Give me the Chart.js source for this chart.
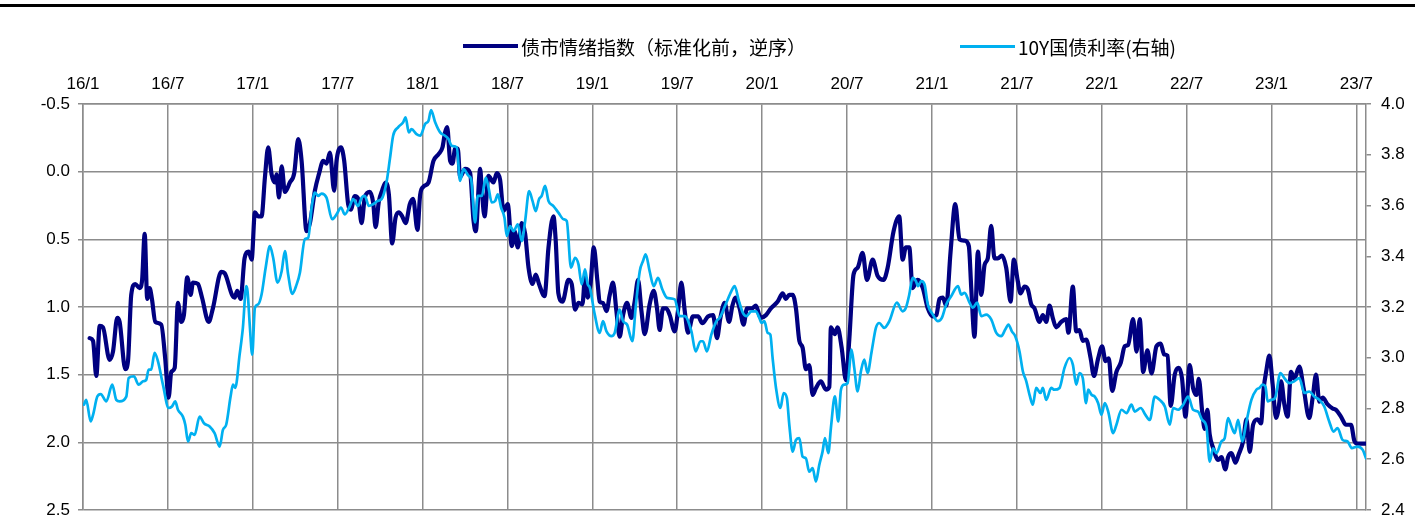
<!DOCTYPE html>
<html>
<head>
<meta charset="utf-8">
<script src="https://cdn.jsdelivr.net/npm/chart.js@4.4.0/dist/chart.umd.min.js"></script>
<style>
html,body{margin:0;padding:0;background:#fff;}
#wrap{position:relative;width:1423px;height:519px;overflow:hidden;background:#fff;}
#c{position:absolute;left:0;top:0;}
#topbar{position:absolute;left:0;top:4px;width:1415px;height:3px;background:#000;}
.leg{position:absolute;top:35px;height:22px;display:flex;align-items:center;font-family:"Noto Sans CJK SC","Noto Sans",sans-serif;font-size:19px;color:#000;white-space:nowrap;}
.leg i{display:inline-block;width:55px;margin-right:3px;}
</style>
</head>
<body>
<div id="wrap">
<canvas id="c" width="1423" height="519"></canvas>
<div id="topbar"></div>
<div class="leg" style="left:463px"><i style="background:#000080;height:4px"></i><span>债市情绪指数（标准化前，逆序）</span></div>
<div class="leg" style="left:960px"><i style="background:#00b0f0;height:3px"></i><span>10Y国债利率(右轴)</span></div>
</div>
<script>
// x positions are months since 2016/1
const xTickLabels = ['16/1','16/7','17/1','17/7','18/1','18/7','19/1','19/7','20/1','20/7','21/1','21/7','22/1','22/7','23/1','23/7'];
const xEnd = 90.68;

const sentimentMonths = [0.47,0.71,0.94,1.18,1.41,1.88,2.12,2.42,2.59,2.99,3.18,3.41,3.69,4.0,4.17,4.36,4.54,4.71,4.87,5.11,5.53,5.81,6.05,6.24,6.48,6.71,6.94,7.13,7.37,7.61,7.77,8.12,8.41,8.88,9.18,9.77,10.01,10.53,10.72,10.9,11.14,11.42,11.71,11.92,12.15,12.38,12.62,12.86,13.09,13.33,13.56,13.68,13.85,14.04,14.27,14.62,14.93,15.21,15.45,15.8,16.04,16.39,16.67,16.98,17.21,17.45,17.75,17.92,18.23,18.46,18.74,18.93,19.21,19.45,19.69,19.92,20.27,20.51,20.68,20.91,21.14,21.38,21.62,21.85,22.09,22.32,22.56,22.8,23.1,23.33,23.64,23.83,24.07,24.42,24.77,25.13,25.41,25.59,25.74,25.95,26.12,26.3,26.49,26.65,27.01,27.36,27.6,27.76,28.07,28.19,28.38,28.66,29.01,29.25,29.48,29.72,30.02,30.31,30.5,30.73,31.01,31.25,31.49,31.77,32.0,32.23,32.62,32.9,33.25,33.41,33.6,33.89,34.31,34.54,34.78,35.02,35.3,35.48,35.67,35.88,36.1,36.36,36.52,36.75,37.0,37.23,37.46,37.7,37.93,38.17,38.45,38.76,38.99,39.23,39.47,39.7,40.05,40.34,40.57,40.76,40.99,41.23,41.47,41.82,42.05,42.29,42.53,42.76,43.11,43.47,43.78,44.17,44.53,44.81,45.05,45.35,45.66,45.9,46.13,46.41,46.69,46.93,47.28,47.56,47.8,47.92,48.27,48.62,49.1,49.45,49.68,49.92,50.16,50.39,50.63,50.86,51.09,51.33,51.57,51.8,52.15,52.51,52.75,52.86,53.14,53.33,53.62,53.92,54.16,54.46,54.75,55.1,55.41,55.81,56.16,56.58,56.87,57.29,57.69,57.93,58.16,58.4,58.63,58.99,59.13,59.36,59.71,60.07,60.31,60.54,60.77,61.01,61.32,61.65,61.95,62.31,62.61,62.78,63.01,63.25,63.49,63.72,63.95,64.19,64.42,64.66,64.94,65.25,65.56,65.79,66.07,66.26,66.54,66.78,67.02,67.25,67.6,67.84,68.08,68.31,68.54,68.78,69.14,69.49,69.65,69.96,70.2,70.43,70.66,70.9,71.22,71.45,71.75,72.03,72.27,72.5,72.74,73.04,73.35,73.63,73.87,74.22,74.46,74.69,74.93,75.23,75.52,75.87,76.17,76.41,76.65,76.88,77.16,77.45,77.68,77.92,78.22,78.46,78.7,78.86,79.1,79.28,79.47,79.63,79.87,80.23,80.46,80.74,80.93,81.17,81.45,81.68,82.0,82.23,82.46,82.7,83.02,83.26,83.45,83.62,83.85,84.08,84.32,84.56,84.68,84.91,85.14,85.38,85.61,85.97,86.27,86.67,86.91,87.15,87.38,87.62,87.97,88.32,88.56,88.91,89.27,89.62,89.86,90.09,90.68];
const sentimentValues = [1.23,1.25,1.51,1.14,1.15,1.39,1.33,1.08,1.11,1.46,1.40,0.91,0.83,0.86,0.81,0.46,0.94,0.86,0.94,1.11,1.13,1.38,1.67,1.48,1.45,0.97,1.11,1.06,0.78,0.91,0.82,0.83,0.93,1.11,1.01,0.74,0.75,0.91,0.93,0.88,0.94,0.64,0.59,0.65,0.30,0.33,0.33,0.04,-0.18,0.02,0.08,0.02,0.19,-0.04,0.15,0.08,0.01,-0.24,-0.08,0.44,0.38,0.14,0.02,-0.08,-0.06,-0.14,0.14,-0.08,-0.18,-0.08,0.24,0.28,0.18,0.20,0.38,0.19,0.15,0.23,0.41,0.22,0.14,0.08,0.17,0.53,0.34,0.30,0.33,0.38,0.24,0.20,0.43,0.17,0.11,0.08,-0.08,-0.13,-0.18,-0.29,-0.33,-0.08,-0.06,-0.17,-0.17,0.04,-0.02,0.01,0.36,0.44,-0.02,0.14,0.33,0.03,0.08,0.01,0.06,0.29,0.24,0.55,0.44,0.56,0.38,0.46,0.71,0.83,0.76,0.83,0.92,0.56,0.33,0.51,0.90,0.96,0.80,0.83,1.02,0.97,0.98,0.78,0.93,0.82,0.56,0.81,0.96,0.97,1.03,0.91,0.82,1.03,1.22,1.06,0.97,1.08,0.96,0.80,1.03,1.20,0.98,0.88,1.01,1.17,1.01,1.01,1.06,1.18,1.03,0.82,1.03,1.19,1.07,1.07,1.12,1.07,1.06,1.23,1.08,0.97,1.11,0.99,0.93,1.01,1.13,1.01,1.01,0.99,1.06,1.08,1.06,1.01,0.96,0.90,0.94,0.91,0.91,1.01,1.25,1.30,1.46,1.43,1.65,1.60,1.55,1.61,1.59,1.15,1.20,1.15,1.30,1.54,1.24,0.76,0.71,0.60,0.80,0.65,0.77,0.80,0.71,0.44,0.33,0.65,0.56,0.56,0.86,0.80,0.81,0.86,1.01,1.07,1.06,0.94,0.93,0.99,0.59,0.24,0.50,0.51,0.55,0.86,1.22,0.59,0.91,0.69,0.64,0.40,0.64,0.64,0.62,0.71,0.96,0.65,0.81,0.90,0.85,0.87,0.98,1.01,1.11,1.06,1.11,0.99,1.08,1.15,1.11,1.09,1.19,0.85,1.18,1.17,1.25,1.24,1.38,1.51,1.38,1.29,1.40,1.38,1.62,1.48,1.41,1.29,1.28,1.09,1.33,1.09,1.48,1.32,1.49,1.29,1.27,1.35,1.36,1.73,1.50,1.45,1.53,1.81,1.43,1.60,1.65,1.53,1.77,1.90,1.76,1.94,2.04,2.13,2.11,2.20,2.11,2.08,2.15,2.09,1.99,1.83,2.07,1.87,1.83,1.86,1.60,1.48,1.36,1.57,1.82,1.70,1.55,1.72,1.81,1.48,1.53,1.44,1.60,1.82,1.67,1.50,1.70,1.67,1.72,1.75,1.76,1.81,1.87,1.87,1.99,2.01,2.01];

const yieldMonths = [0.07,0.23,0.54,0.71,1.01,1.25,1.65,2.07,2.35,2.59,3.06,3.23,3.6,3.93,4.24,4.47,4.64,4.82,5.06,5.3,5.65,6.05,6.29,6.52,6.71,7.06,7.23,7.42,7.65,7.89,8.24,8.55,8.95,9.3,9.66,9.89,10.12,10.43,10.6,10.76,11.07,11.3,11.54,11.63,11.8,11.96,12.15,12.38,12.62,12.91,13.21,13.44,13.75,14.04,14.27,14.5,14.79,15.1,15.33,15.68,15.92,16.16,16.39,16.62,16.86,17.21,17.61,17.92,18.23,18.51,18.86,19.09,19.45,19.69,19.92,20.2,20.51,20.82,21.1,21.45,21.69,21.92,22.27,22.63,22.8,23.03,23.22,23.57,23.83,24.18,24.42,24.6,24.89,25.24,25.59,25.83,26.07,26.42,26.65,26.89,27.25,27.43,27.71,27.9,28.19,28.47,28.66,28.89,29.13,29.32,29.55,29.79,29.95,30.19,30.43,30.73,31.01,31.25,31.53,31.77,32.0,32.23,32.42,32.66,32.9,33.25,33.6,33.96,34.19,34.49,34.78,35.02,35.25,35.48,35.67,35.82,36.17,36.52,36.75,37.0,37.35,37.58,37.93,38.17,38.45,38.83,39.06,39.35,39.58,39.77,40.05,40.34,40.64,40.95,41.28,41.82,42.17,42.53,43.0,43.3,43.64,43.82,44.1,44.41,44.77,45.0,45.47,45.82,46.06,46.36,46.64,46.89,47.24,47.56,47.8,47.97,48.16,48.39,48.58,48.74,48.98,49.29,49.52,49.75,49.92,50.16,50.39,50.63,50.86,51.09,51.33,51.57,51.8,52.04,52.27,52.44,52.68,52.86,53.14,53.38,53.57,53.81,54.04,54.32,54.51,54.75,54.98,55.22,55.45,55.74,56.04,56.28,56.63,56.99,57.52,57.93,58.16,58.4,58.63,58.87,59.01,59.25,59.48,59.71,60.07,60.42,60.7,61.01,61.37,61.84,62.07,62.31,62.66,62.89,63.2,63.49,63.84,64.19,64.55,64.9,65.18,65.41,65.65,65.89,66.19,66.43,66.67,66.9,67.13,67.37,67.67,67.84,68.08,68.43,68.66,69.02,69.37,69.72,69.96,70.2,70.43,70.66,70.9,71.04,71.28,71.51,71.75,71.98,72.22,72.46,72.81,73.04,73.4,73.75,74.1,74.34,74.76,75.09,75.4,75.75,76.1,76.46,76.81,77.05,77.4,77.76,78.11,78.46,78.81,79.1,79.4,79.63,79.87,80.11,80.46,80.69,80.93,81.17,81.4,81.64,81.93,82.23,82.58,82.93,83.14,83.38,83.57,83.73,83.97,84.25,84.63,84.91,85.26,85.61,85.97,86.32,86.67,87.02,87.38,87.73,88.08,88.39,88.67,89.03,89.38,89.67,90.09,90.45,90.68];
const yieldValues = [2.815,2.834,2.749,2.775,2.847,2.857,2.828,2.894,2.834,2.828,2.847,2.92,2.927,2.894,2.907,2.913,2.953,2.953,3.019,2.986,2.894,2.802,2.808,2.828,2.795,2.768,2.736,2.67,2.703,2.696,2.768,2.742,2.729,2.703,2.65,2.716,2.736,2.847,2.894,2.881,3.012,3.118,3.282,3.262,3.118,3.012,3.197,3.21,3.249,3.355,3.44,3.394,3.296,3.341,3.42,3.328,3.252,3.289,3.335,3.467,3.473,3.592,3.651,3.638,3.647,3.631,3.546,3.565,3.592,3.565,3.598,3.625,3.598,3.631,3.638,3.598,3.605,3.618,3.625,3.691,3.783,3.875,3.908,3.928,3.947,3.888,3.901,3.881,3.875,3.921,3.934,3.976,3.928,3.888,3.875,3.862,3.835,3.829,3.697,3.743,3.717,3.704,3.533,3.638,3.638,3.71,3.671,3.612,3.618,3.644,3.592,3.552,3.48,3.519,3.499,3.526,3.46,3.539,3.657,3.618,3.578,3.625,3.638,3.677,3.618,3.598,3.572,3.546,3.539,3.355,3.394,3.368,3.289,3.348,3.29,3.276,3.17,3.098,3.144,3.104,3.085,3.098,3.19,3.144,3.131,3.065,3.197,3.341,3.381,3.407,3.341,3.282,3.315,3.269,3.236,3.23,3.164,3.164,3.104,3.025,3.065,3.065,3.025,3.091,3.144,3.157,3.217,3.262,3.282,3.223,3.177,3.164,3.183,3.183,3.157,3.137,3.144,3.098,3.091,2.999,2.881,2.802,2.861,2.841,2.736,2.63,2.676,2.683,2.61,2.604,2.551,2.565,2.512,2.578,2.63,2.683,2.624,2.723,2.848,2.749,2.874,2.894,2.9,3.032,2.96,2.867,2.946,2.993,2.94,3.025,3.118,3.137,3.118,3.144,3.217,3.183,3.197,3.249,3.315,3.302,3.282,3.302,3.289,3.21,3.17,3.144,3.157,3.21,3.243,3.282,3.249,3.256,3.217,3.197,3.217,3.164,3.17,3.151,3.098,3.085,3.111,3.131,3.104,3.085,3.025,2.946,2.907,2.854,2.815,2.881,2.861,2.881,2.834,2.881,2.874,2.881,2.96,2.999,2.973,2.894,2.94,2.92,2.821,2.874,2.854,2.847,2.821,2.775,2.821,2.788,2.703,2.736,2.795,2.782,2.815,2.788,2.802,2.775,2.755,2.847,2.834,2.808,2.736,2.802,2.795,2.815,2.847,2.795,2.788,2.755,2.729,2.591,2.643,2.624,2.67,2.683,2.762,2.729,2.703,2.755,2.67,2.749,2.834,2.874,2.881,2.894,2.887,2.828,2.834,2.841,2.94,2.92,2.9,2.907,2.92,2.861,2.867,2.847,2.834,2.808,2.749,2.709,2.723,2.676,2.67,2.644,2.65,2.637,2.604];

const leftTicks = {min:-0.5, max:2.5, step:0.5};
const rightTicks = {min:2.4, max:4.0, step:0.2};

const toPoints = (xs, ys) => xs.map((x, i) => ({x: x, y: ys[i]}));
const gridColor = '#8c8c8c';
const tickFont = {family: '"Liberation Sans", Arial, sans-serif', size: 17};
const noOverhang = s => { s.paddingTop = 0; s.paddingBottom = 0; };

new Chart(document.getElementById('c'), {
  type: 'line',
  data: {
    datasets: [
      {
        label: '债市情绪指数（标准化前，逆序）',
        data: toPoints(sentimentMonths, sentimentValues),
        yAxisID: 'y',
        borderColor: '#000080',
        borderWidth: 4.2,
        pointRadius: 0,
        cubicInterpolationMode: 'monotone',
        borderJoinStyle: 'round',
        borderCapStyle: 'round',
        order: 1
      },
      {
        label: '10Y国债利率(右轴)',
        data: toPoints(yieldMonths, yieldValues),
        yAxisID: 'y1',
        borderColor: '#00b0f0',
        borderWidth: 2.7,
        pointRadius: 0,
        cubicInterpolationMode: 'monotone',
        borderJoinStyle: 'round',
        borderCapStyle: 'round',
        order: 0
      }
    ]
  },
  options: {
    responsive: false,
    animation: false,
    devicePixelRatio: 1,
    layout: {padding: {left: 0, right: 0, top: 0, bottom: 9}},
    plugins: {legend: {display: false}, tooltip: {enabled: false}},
    scales: {
      x: {
        type: 'linear',
        position: 'top',
        min: 0,
        max: xEnd,
        afterBuildTicks: s => { s.ticks = xTickLabels.map((_, i) => ({value: i * 6})); },
        afterFit: s => { s.height = 104; },
        grid: {color: gridColor, lineWidth: 1.5, drawTicks: false},
        border: {display: true, color: gridColor, width: 1.5},
        ticks: {
          padding: 9, font: tickFont, color: '#000', maxRotation: 0, autoSkip: false,
          callback: (v, i) => xTickLabels[i]
        }
      },
      y: {
        position: 'left',
        reverse: true,
        min: leftTicks.min,
        max: leftTicks.max,
        afterFit: s => { s.width = 83; noOverhang(s); },
        grid: {color: gridColor, lineWidth: 1.5, tickLength: 5},
        border: {display: true, color: gridColor, width: 1.5},
        ticks: {stepSize: leftTicks.step, padding: 8, font: tickFont, color: '#000', callback: v => Number(v).toFixed(1)}
      },
      y1: {
        position: 'right',
        min: rightTicks.min,
        max: rightTicks.max,
        afterFit: s => { s.width = 57; noOverhang(s); },
        grid: {drawOnChartArea: false, color: gridColor, lineWidth: 1.5, tickLength: 5},
        border: {display: true, color: gridColor, width: 1.5},
        ticks: {stepSize: rightTicks.step, padding: 10, font: tickFont, color: '#000', callback: v => Number(v).toFixed(1)}
      }
    }
  }
});
</script>
</body>
</html>
